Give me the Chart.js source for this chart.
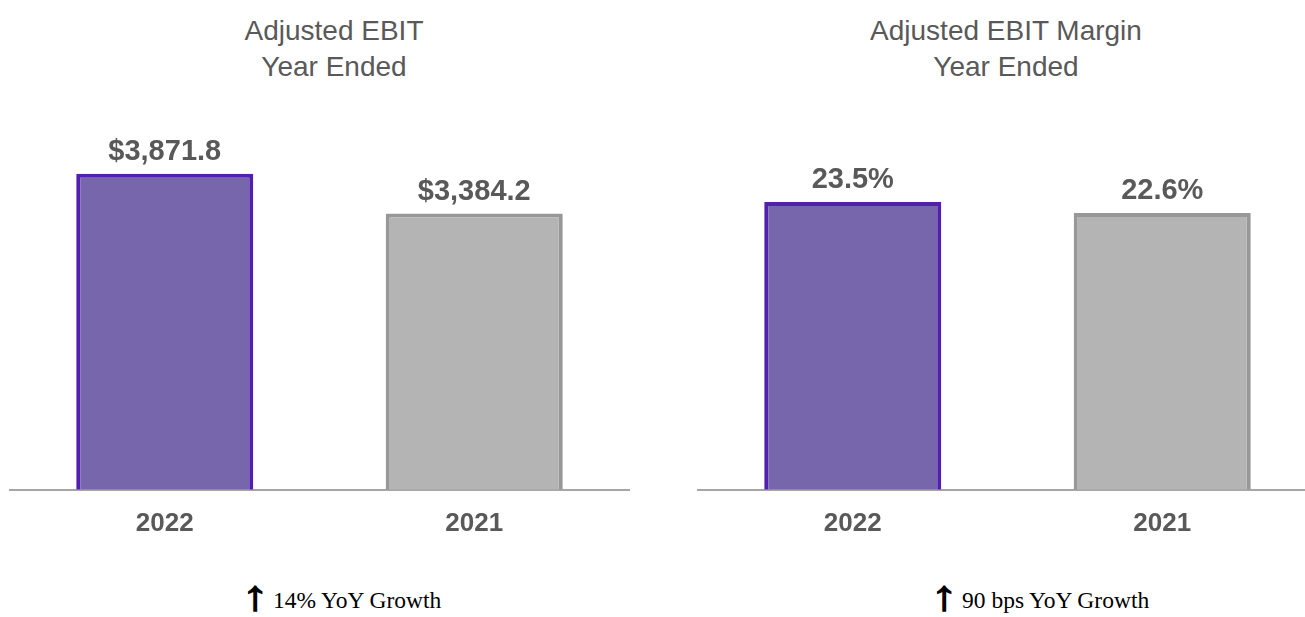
<!DOCTYPE html>
<html>
<head>
<meta charset="utf-8">
<script src="https://cdn.jsdelivr.net/npm/chart.js@4.4.0/dist/chart.umd.min.js"></script>
<style>
    html, body {
        margin: 0;
        padding: 0;
        width: 1305px;
        height: 617px;
        overflow: hidden;
        background: #ffffff;
    }
    .box {
        position: absolute;
        top: 0;
    }
    .title {
        position: absolute;
        transform: translateX(-50%);
        text-align: center;
        white-space: nowrap;
        font-family: "Liberation Sans", Arial, sans-serif;
        font-size: 28px;
        line-height: 36px;
        color: #595959;
    }
    .growth {
        position: absolute;
        white-space: nowrap;
        font-family: "Liberation Serif", "Times New Roman", serif;
        font-size: 23.5px;
        line-height: 30px;
        color: #000000;
    }
    .growth .arrow {
        display: inline-block;
        position: relative;
        top: 2px;
        text-align: center;
        font-family: "Liberation Sans", Arial, sans-serif;
        font-weight: bold;
        font-size: 42px;
        width: 28px;
        margin-right: 4px;
        vertical-align: baseline;
        line-height: 30px;
        transform: scale(1.3, 1);
        transform-origin: 50% 50%;
        -webkit-text-stroke: 1.2px #000000;
    }
</style>
</head>
<body>

<div class="title" style="left:334px; top:13px;">Adjusted EBIT<br>Year Ended</div>
<div class="title" style="left:1006px; top:13px;">Adjusted EBIT Margin<br>Year Ended</div>

<div class="box" style="left:0px; width:640px; height:560px;">
    <canvas id="ebitChart"></canvas>
</div>
<div class="box" style="left:680px; width:660px; height:560px;">
    <canvas id="marginChart"></canvas>
</div>

<div class="growth" style="left:241px; top:579px;"><span class="arrow">↑</span>14% YoY Growth</div>
<div class="growth" style="left:930px; top:579px;"><span class="arrow">↑</span>90 bps YoY Growth</div>

<script>
// ===============================
// Data
// ===============================

const years = ["2022", "2021"];
const ebitValues = [3871.8, 3384.2];
const marginValues = [23.5, 22.6];

const barFill = ["#7866ad", "#b4b4b4"];
const barBorder = ["#5120b0", "#989898"];

// ===============================
// Value labels above bars
// ===============================

const valueLabels = {
    id: "valueLabels",
    afterDatasetsDraw(chart, args, opts) {
        const ctx = chart.ctx;
        const meta = chart.getDatasetMeta(0);
        const values = chart.data.datasets[0].data;
        ctx.save();
        ctx.font = "bold 29px 'Liberation Sans', Arial, sans-serif";
        ctx.fillStyle = "#595959";
        ctx.textAlign = "center";
        ctx.textBaseline = "alphabetic";
        meta.data.forEach((bar, i) => {
            ctx.fillText(opts.format(values[i]), bar.x, bar.y - 14);
        });
        ctx.restore();
    }
};

function makeChart(id, values, yMax, format, padLeft, padRight) {
    return new Chart(document.getElementById(id), {
        type: "bar",
        data: {
            labels: years,
            datasets: [{
                data: values,
                backgroundColor: barFill,
                borderColor: barBorder,
                borderWidth: 4,
                categoryPercentage: 1,
                barPercentage: 0.572
            }]
        },
        options: {
            responsive: true,
            maintainAspectRatio: false,
            animation: false,
            layout: {
                padding: { left: padLeft, right: padRight, top: 147, bottom: 3 }
            },
            plugins: {
                legend: { display: false },
                tooltip: { enabled: false },
                valueLabels: { format: format }
            },
            scales: {
                x: {
                    grid: { display: false, drawTicks: false },
                    border: { display: true, color: "#a6a6a6", width: 2 },
                    ticks: {
                        padding: 18,
                        color: "#595959",
                        font: { family: "'Liberation Sans', Arial, sans-serif", size: 26, weight: "bold" }
                    }
                },
                y: {
                    display: false,
                    min: 0,
                    max: yMax
                }
            }
        },
        plugins: [valueLabels]
    });
}

// ===============================
// Adjusted EBIT
// ===============================

makeChart("ebitChart", ebitValues, 4200, v =>
    "$" + v.toLocaleString("en-US", { minimumFractionDigits: 1, maximumFractionDigits: 1 }), 10, 11);

// ===============================
// Adjusted EBIT Margin
// ===============================

makeChart("marginChart", marginValues, 28, v => v.toFixed(1) + "%", 18, 23);
</script>
</body>
</html>
